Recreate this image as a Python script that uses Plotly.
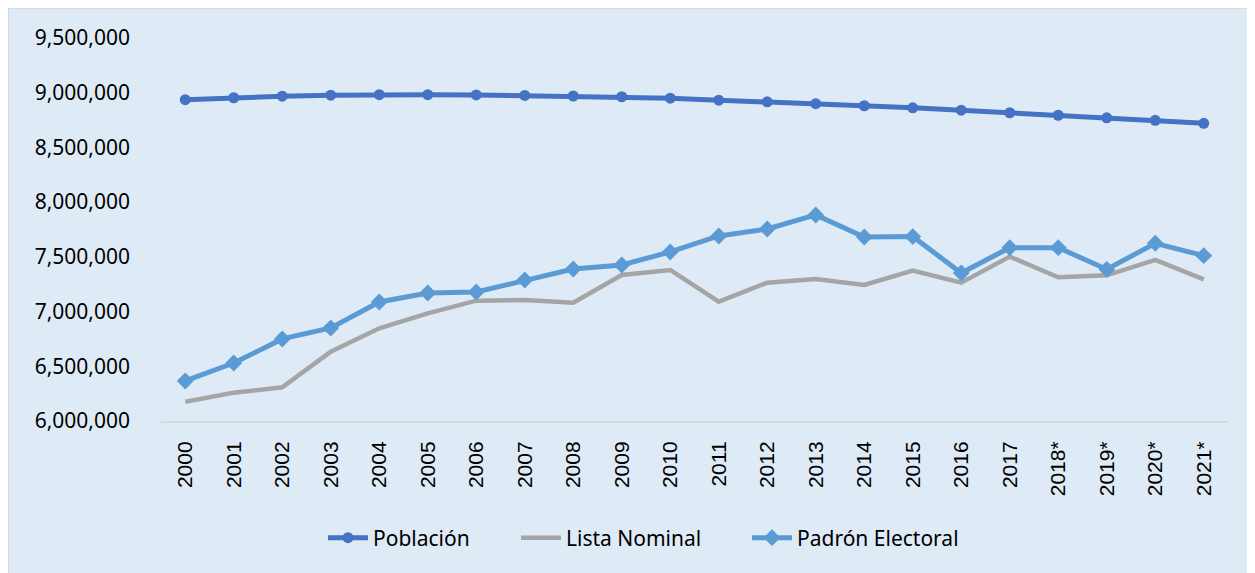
import plotly.graph_objects as go

years = ["2000", "2001", "2002", "2003", "2004", "2005", "2006", "2007", "2008", "2009",
         "2010", "2011", "2012", "2013", "2014", "2015", "2016", "2017", "2018*", "2019*",
         "2020*", "2021*"]

poblacion = [8936000, 8954000, 8968000, 8977000, 8982000, 8982000, 8980000, 8975000, 8970000,
             8963000, 8950000, 8932000, 8917000, 8900000, 8881000, 8862000, 8840000, 8817000,
             8794000, 8771000, 8748000, 8720000]

lista_nominal = [6176000, 6259000, 6308000, 6633000, 6847000, 6984000, 7100000, 7106000, 7081000,
                 7334000, 7380000, 7091000, 7264000, 7298000, 7243000, 7374000, 7264000, 7502000,
                 7313000, 7331000, 7472000, 7295000]

padron_electoral = [6366000, 6530000, 6750000, 6850000, 7088000, 7170000, 7179000, 7289000, 7389000,
                    7426000, 7545000, 7691000, 7755000, 7883000, 7682000, 7685000, 7353000, 7584000,
                    7584000, 7386000, 7624000, 7511000]

y_ticks = [6000000, 6500000, 7000000, 7500000, 8000000, 8500000, 9000000, 9500000]

W, H = 1255, 573
ML, MR, MT, MB = 153, 35, 30, 160
pw, ph = W - ML - MR, H - MT - MB

fig = go.Figure()
fig.add_trace(go.Scatter(
    x=years, y=poblacion, name="Población", mode="lines+markers",
    line=dict(color="#4472C4", width=5),
    marker=dict(symbol="circle", size=11, color="#4472C4"),
    legend="legend",
))
fig.add_trace(go.Scatter(
    x=years, y=lista_nominal, name="Lista Nominal", mode="lines",
    line=dict(color="#A5A5A5", width=4.5),
    legend="legend2",
))
fig.add_trace(go.Scatter(
    x=years, y=padron_electoral, name="Padrón Electoral", mode="lines+markers",
    line=dict(color="#5B9BD5", width=5),
    marker=dict(symbol="diamond", size=13, color="#5B9BD5"),
    legend="legend3",
))

# thin border along the figure edge
fig.add_shape(
    type="rect", xref="paper", yref="paper", layer="below",
    x0=-ML / pw, x1=1 + MR / pw, y0=-MB / ph, y1=1 + MT / ph,
    fillcolor="rgba(0,0,0,0)", line=dict(color="#D9D9D9", width=2),
)

leg_y = (413 - 530) / ph
leg_common = dict(orientation="h", y=leg_y, yanchor="middle", xanchor="left",
                  bgcolor="rgba(0,0,0,0)", font=dict(family="Noto Sans", size=21, color="#000000"),
                  itemwidth=40)

fig.update_layout(
    width=W, height=H,
    margin=dict(l=ML, r=MR, t=MT, b=MB, autoexpand=False),
    paper_bgcolor="#DEEBF7", plot_bgcolor="#DEEBF7",
    font=dict(family="Noto Sans", size=21, color="#000000"),
    showlegend=True,
    legend=dict(x=(315 - ML) / pw, **leg_common),
    legend2=dict(x=(508 - ML) / pw, **leg_common),
    legend3=dict(x=(739 - ML) / pw, **leg_common),
    xaxis=dict(
        type="category", range=[-0.5, 21.5], tickangle=-90,
        showgrid=False, showline=True, linecolor="#D9D9D9", linewidth=2,
        ticks="", tickfont=dict(family="Liberation Sans", size=21),
        ticklabelstandoff=10,
    ),
    yaxis=dict(
        range=[6000000, 9500000], tickvals=y_ticks, tickformat=",d",
        showgrid=False, zeroline=False, showline=False, ticks="",
        tickfont=dict(family="Noto Sans", size=21), ticklabelstandoff=30,
    ),
)

fig.write_html("out.html")
